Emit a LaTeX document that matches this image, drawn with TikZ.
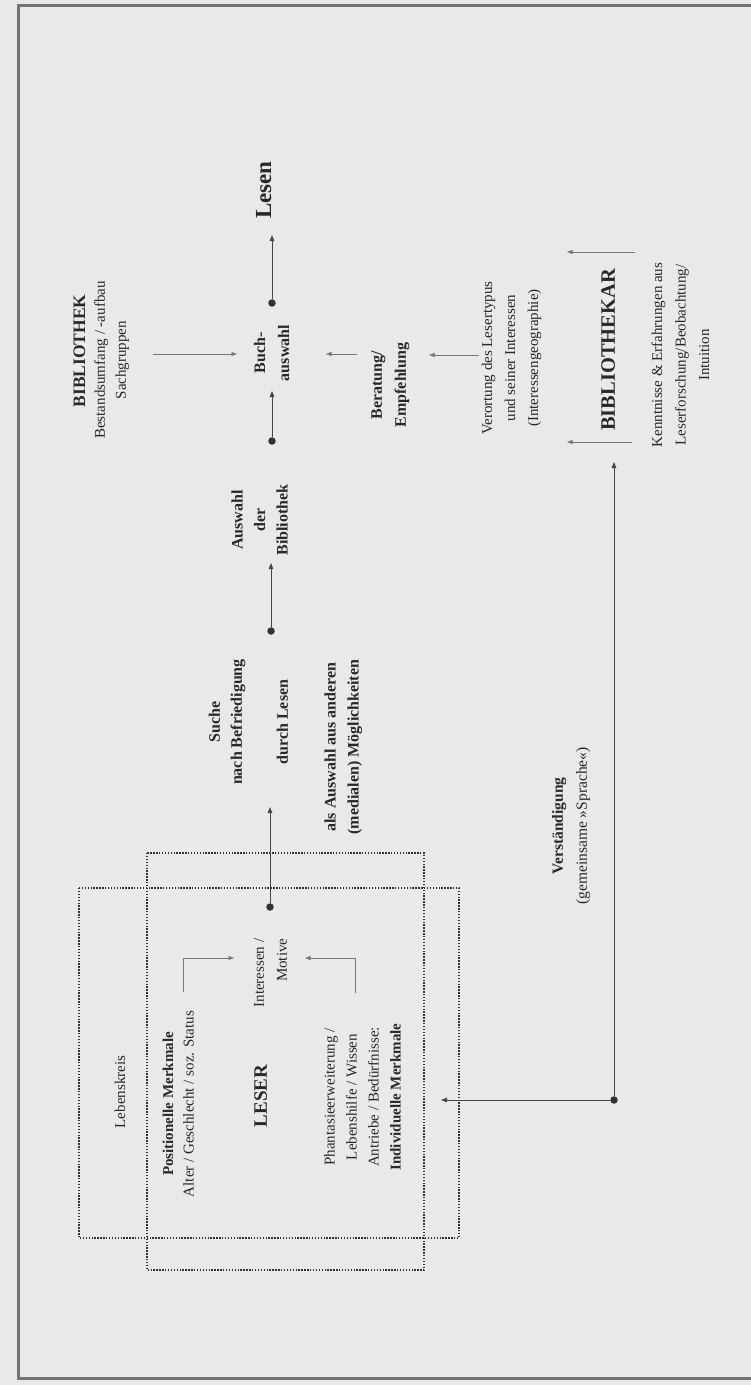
\documentclass[tikz,border=0pt]{standalone}
\usepackage{fontspec}
\setmainfont{Liberation Serif}
\usetikzlibrary{arrows.meta}
\definecolor{bg}{RGB}{233,233,231}
\definecolor{ink}{RGB}{40,40,40}
\definecolor{ln}{RGB}{70,70,70}
\definecolor{lnlight}{RGB}{120,120,120}
\definecolor{framec}{RGB}{115,115,115}
\definecolor{dotc}{RGB}{50,50,50}
\begin{document}
\begin{tikzpicture}[x=1pt,y=-1pt,
  lab/.style={rotate=90, align=center, text=ink, inner sep=0pt, outer sep=0pt,
    execute at begin node=\strut, execute at end node=\strut},
  reg/.style={lab, font=\fontsize{15}{#1}\selectfont},
  bld/.style={lab, font=\fontsize{16}{#1}\selectfont\bfseries},
  dotn/.style={circle, fill=dotc, inner sep=0pt, minimum size=7.5pt},
  arr/.style={draw=ln, line width=0.9pt, -{Triangle[length=6pt,width=4.5pt]}},
  arrl/.style={draw=lnlight, line width=0.7pt, -{Triangle[length=5.5pt,width=4pt]}},
  dotbox/.style={draw=dotc, line width=1.6pt, dash pattern=on 1.4pt off 1.5pt},
  framel/.style={draw=framec, line width=3pt}
]
\useasboundingbox (0,0) rectangle (751,1385);
\fill[bg] (0,0) rectangle (751,1385);
\draw[framel] (751,5) -- (18,5) -- (18,1378) -- (751,1378);

% ---- labels
\node[lab, font=\fontsize{17.5}{21}\selectfont\bfseries] (bib) at (80.8,351) {BIBLIOTHEK};
\node[reg=21] (bestand) at (113.3,360) {Bestandsumfang / -aufbau\\Sachgruppen};
\node[lab, font=\fontsize{23}{27.6}\selectfont\bfseries] (lesen) at (265.5,190) {Lesen};
\node[bld=24] (buch) at (275.2,353) {Buch-\\auswahl};
\node[bld=22.5] (auswahl) at (263,520) {Auswahl\\der\\Bibliothek};
\node[bld=22] (suche) at (251.6,722) {Suche\\nach Befriedigung\\[24pt]durch Lesen};
\node[bld=23] (medial) at (344.9,747) {als Auswahl aus anderen\\(medialen) Möglichkeiten};
\node[bld=24] (berat) at (392.2,385) {Beratung/\\Empfehlung};
\node[reg=23] (veror) at (513.4,358) {Verortung des Lesertypus\\und seiner Interessen\\(Interessengeographie)};
\node[lab, font=\fontsize{20.5}{24.6}\selectfont\bfseries] (bibkar) at (610,350) {BIBLIOTHEKAR};
\node[reg=23.5] (kennt) at (683.8,355) {Kenntnisse \& Erfahrungen aus\\Leserforschung/Beobachtung/\\Intuition};
\node[lab, font=\fontsize{15.5}{24}\selectfont] (verst) at (573.2,826) {\textbf{Verständigung}\\(gemeinsame »Sprache«)};
\node[lab, font=\fontsize{15}{18}\selectfont] (kreis) at (121.4,1092) {Lebenskreis};
\node[reg=20.5] (posit) at (181.2,1104) {\textbf{Positionelle Merkmale}\\Alter / Geschlecht / soz. Status};
\node[lab, font=\fontsize{19}{22.8}\selectfont\bfseries] (leser) at (262.4,1096) {LESER};
\node[reg=23, align=right] (inter) at (273.9,973) {Interessen /\\Motive};
\node[reg=22] (indiv) at (365.6,1097) {Phantasieerweiterung /\\Lebenshilfe / Wissen\\Antriebe / Bedürfnisse:\\\textbf{Individuelle Merkmale}};

% ---- dotted boxes
\draw[dotbox] (79,888) rectangle (459,1238);
\draw[dotbox] (147,853) rectangle (424,1270);

% ---- dots and arrow ends
\node[dotn] (dA) at (272,303) {};
\coordinate (tA) at (272,235);
\node[dotn] (dB) at (272,441) {};
\coordinate (tB) at (272,391);
\node[dotn] (dC) at (271,631) {};
\coordinate (tC) at (271,563);
\node[dotn] (dD) at (270,907) {};
\coordinate (tD) at (270,807);
\node[dotn] (dE) at (614,1100) {};
\coordinate (tE1) at (614,462);
\coordinate (tE2) at (441,1100);

\draw[arr] (dA) -- (tA);
\draw[arr] (dB) -- (tB);
\draw[arr] (dC) -- (tC);
\draw[arr] (dD) -- (tD);
\draw[arr] (dE) -- (tE1);
\draw[arr] (dE) -- (tE2);

% ---- side arrows
\coordinate (s1) at (153,354); \coordinate (e1) at (237,354);
\coordinate (s2) at (357,354); \coordinate (e2) at (326,354);
\coordinate (s3) at (479,355); \coordinate (e3) at (429,355);
\coordinate (s4) at (635,252); \coordinate (e4) at (567,252);
\coordinate (s5) at (632,442); \coordinate (e5) at (567,442);
\draw[arrl] (s1) -- (e1);
\draw[arrl] (s2) -- (e2);
\draw[arrl] (s3) -- (e3);
\draw[arrl] (s4) -- (e4);
\draw[arrl] (s5) -- (e5);

% ---- elbow arrows into Interessen / Motive
\coordinate (p1) at (183,992); \coordinate (q1) at (234,958);
\coordinate (p2) at (355,993); \coordinate (q2) at (305,958);
\draw[arrl] (p1) |- (q1);
\draw[arrl] (p2) |- (q2);
\end{tikzpicture}
\end{document}
